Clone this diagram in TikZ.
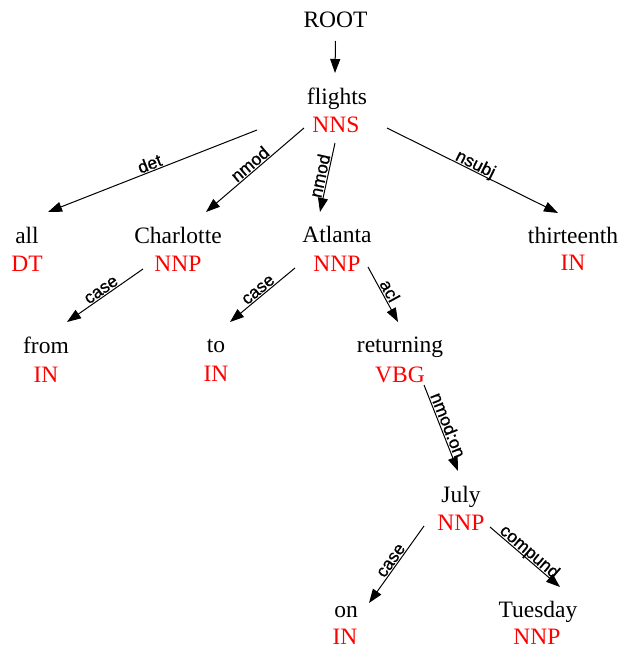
\documentclass[tikz,border=0pt]{standalone}
\usepackage{fontspec}
\setmainfont{Liberation Serif}
\newfontfamily\lblfont[FakeBold=0.9]{Liberation Sans}
\usetikzlibrary{arrows.meta}
\begin{document}
\begin{tikzpicture}[x=1pt,y=-1pt,
  word/.style={anchor=base, inner sep=0pt, font=\fontsize{23.5}{28}\selectfont},
  tag/.style={word, text=red},
  dep/.style={-{Triangle[length=14pt,width=10pt]}, line width=1pt},
  lbl/.style={sloped, anchor=south, inner sep=1.2pt, text depth=0pt, font=\lblfont\fontsize{17.5}{20}\selectfont, pos=0.5}]
\useasboundingbox (0,0) rectangle (620,648);
% words and tags
\node[word] (root) at (335.5,27) {ROOT};
\node[word] (flights) at (337,104) {flights};
\node[tag] (flightsT) at (336,132) {NNS};
\node[word] (all) at (27,243) {all};
\node[tag] (allT) at (27,271) {DT};
\node[word] (charlotte) at (178,243) {Charlotte};
\node[tag] (charlotteT) at (178,271) {NNP};
\node[word] (atlanta) at (337,242) {Atlanta};
\node[tag] (atlantaT) at (337,271) {NNP};
\node[word] (thirteenth) at (573,243) {thirteenth};
\node[tag] (thirteenthT) at (573,270) {IN};
\node[word] (from) at (46,353) {from};
\node[tag] (fromT) at (46,382) {IN};
\node[word] (to) at (216,352) {to};
\node[tag] (toT) at (216,381) {IN};
\node[word] (returning) at (400,352) {returning};
\node[tag] (returningT) at (400,382) {VBG};
\node[word] (july) at (461,502) {July};
\node[tag] (julyT) at (461,530) {NNP};
\node[word] (on) at (346,617) {on};
\node[tag] (onT) at (345,644) {IN};
\node[word] (tuesday) at (538,617) {Tuesday};
\node[tag] (tuesdayT) at (537,644) {NNP};
% dependencies
\draw[dep] ([shift={(0,14)}]root.base) -- ([shift={(-2,-31)}]flights.base);
\draw[dep] ([shift={(-79,-2)}]flightsT.base) -- node[lbl]{det} ([shift={(21,-31)}]all.base);
\draw[dep] ([shift={(-32,-4)}]flightsT.base) -- node[lbl]{nmod} ([shift={(28,-31)}]charlotte.base);
\draw[dep] ([shift={(-1,11)}]flightsT.base) -- node[lbl]{nmod} ([shift={(-17,-30)}]atlanta.base);
\draw[dep] ([shift={(51,-4)}]flightsT.base) -- node[lbl]{nsubj} ([shift={(-15,-30)}]thirteenth.base);
\draw[dep] ([shift={(-35,-2)}]charlotteT.base) -- node[lbl]{case} ([shift={(21,-31)}]from.base);
\draw[dep] ([shift={(-42,-3)}]atlantaT.base) -- node[lbl]{case} ([shift={(14,-30)}]to.base);
\draw[dep] ([shift={(31,-4)}]atlantaT.base) -- node[lbl]{acl} ([shift={(-2,-30)}]returning.base);
\draw[dep] ([shift={(24,3)}]returningT.base) -- node[lbl]{nmod:on} ([shift={(-3,-31)}]july.base);
\draw[dep] ([shift={(-37,-4)}]julyT.base) -- node[lbl]{case} ([shift={(23,-14)}]on.base);
\draw[dep] ([shift={(29,-3)}]julyT.base) -- node[lbl]{compund} ([shift={(22,-30)}]tuesday.base);
\end{tikzpicture}
\end{document}
